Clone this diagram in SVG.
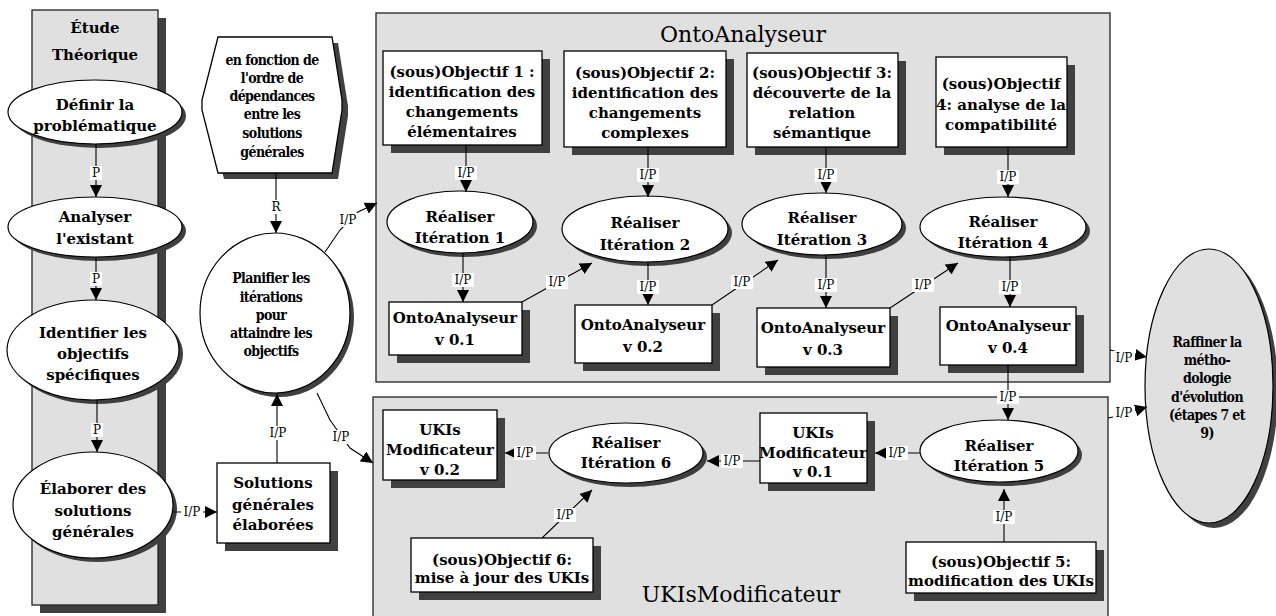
<svg xmlns="http://www.w3.org/2000/svg" width="1276" height="616" viewBox="0 0 1276 616">
<defs>
<marker id="arr" viewBox="0 0 10 10" refX="10" refY="5" markerWidth="12" markerHeight="12" markerUnits="userSpaceOnUse" orient="auto"><path d="M0,0 L10,5 L0,10 z" fill="#000"/></marker>
</defs>
<style>
.sh{fill:#404040}
.bx{fill:#fff;stroke:#000;stroke-width:1.3}
.el{fill:#fff;stroke:#000;stroke-width:1.2}
.gr{fill:#e0e0e0;stroke:#222;stroke-width:1.3}
text{font-family:'DejaVu Serif','Liberation Serif',serif}
.t{font-weight:bold;font-size:15px;text-anchor:middle;fill:#000}
.s{font-family:'DejaVu Serif','Liberation Serif',serif;font-stretch:condensed;font-weight:bold;font-size:14px;text-anchor:middle;fill:#000;letter-spacing:-0.6px}
.ti{font-size:22px;text-anchor:middle;fill:#000}
.ln{fill:none;stroke:#000;stroke-width:1.1;marker-end:url(#arr)}
.lb{font-size:12px;text-anchor:middle;fill:#000}
.lbg{fill:#fff}
</style>
<rect width="1276" height="616" fill="#fff"/>

<g id="etude">
<rect class="sh" x="40" y="18" width="126" height="595"/>
<rect class="gr" x="32" y="10" width="126" height="595"/>
<text class="t" x="95" y="33" font-size="17">Étude</text>
<text class="t" x="95" y="60" font-size="17">Théorique</text>
</g>

<g id="onto-container">
<rect class="gr" x="376" y="13" width="734" height="369"/>
<text class="ti" x="743" y="42">OntoAnalyseur</text>
</g>
<g id="ukis-container">
<rect class="gr" x="373" y="397" width="735" height="230"/>
<text class="ti" x="741" y="602">UKIsModificateur</text>
</g>

<g id="definir">
<ellipse class="sh" cx="99" cy="116" rx="87" ry="32"/>
<ellipse class="el" cx="95" cy="112" rx="87" ry="32"/>
<text class="t" x="95" y="110">Définir la</text>
<text class="t" x="95" y="131">problématique</text>
</g>
<g id="analyser">
<ellipse class="sh" cx="99" cy="231" rx="87" ry="30"/>
<ellipse class="el" cx="95" cy="227" rx="87" ry="30"/>
<text class="t" x="95" y="222">Analyser</text>
<text class="t" x="95" y="244">l'existant</text>
</g>
<g id="identifier">
<ellipse class="sh" cx="97" cy="354" rx="86" ry="50"/>
<ellipse class="el" cx="93" cy="350" rx="86" ry="50"/>
<text class="t" x="93" y="338">Identifier les</text>
<text class="t" x="93" y="359">objectifs</text>
<text class="t" x="93" y="380">spécifiques</text>
</g>
<g id="elaborer">
<ellipse class="sh" cx="97" cy="509" rx="80" ry="53"/>
<ellipse class="el" cx="93" cy="505" rx="80" ry="53"/>
<text class="t" x="93" y="494">Élaborer des</text>
<text class="t" x="93" y="516">solutions</text>
<text class="t" x="93" y="537">générales</text>
</g>

<g id="solutions">
<rect class="sh" x="225" y="471" width="113" height="80"/>
<rect class="bx" x="217" y="463" width="113" height="80"/>
<text class="t" x="273" y="488">Solutions</text>
<text class="t" x="273" y="510">générales</text>
<text class="t" x="273" y="530">élaborées</text>
</g>

<g id="hexagone">
<polygon class="sh" points="224,43 338,43 348,106 348,116 338,179 224,179 208,116 208,106"/>
<polygon class="bx" points="218,37 332,37 342,100 342,110 332,173 218,173 202,110 202,100"/>
<text class="s" x="272" y="65">en fonction  de</text>
<text class="s" x="272" y="83">l'ordre de</text>
<text class="s" x="272" y="101">dépendances</text>
<text class="s" x="272" y="119">entre les</text>
<text class="s" x="272" y="138">solutions</text>
<text class="s" x="272" y="157">générales</text>
</g>

<g id="planifier">
<ellipse class="sh" cx="279" cy="317" rx="75" ry="80"/>
<ellipse class="el" cx="275" cy="313" rx="75" ry="80"/>
<text class="s" x="271" y="283">Planifier les</text>
<text class="s" x="271" y="302">itérations</text>
<text class="s" x="271" y="320">pour</text>
<text class="s" x="271" y="338">attaindre les</text>
<text class="s" x="271" y="356">objectifs</text>
</g>

<g id="obj1">
<rect class="sh" x="391" y="59" width="159" height="94"/>
<rect class="bx" x="383" y="51" width="159" height="94"/>
<text class="t" x="462" y="77">(sous)Objectif 1 :</text>
<text class="t" x="462" y="97">identification des</text>
<text class="t" x="462" y="117">changements</text>
<text class="t" x="462" y="137">élémentaires</text>
</g>
<g id="obj2">
<rect class="sh" x="572" y="59" width="162" height="96"/>
<rect class="bx" x="564" y="51" width="162" height="96"/>
<text class="t" x="645" y="78">(sous)Objectif  2:</text>
<text class="t" x="645" y="98">identification des</text>
<text class="t" x="645" y="118">changements</text>
<text class="t" x="645" y="138">complexes</text>
</g>
<g id="obj3">
<rect class="sh" x="755" y="61" width="151" height="94"/>
<rect class="bx" x="747" y="53" width="151" height="94"/>
<text class="t" x="822" y="78">(sous)Objectif 3:</text>
<text class="t" x="822" y="98">découverte de la</text>
<text class="t" x="822" y="118">relation</text>
<text class="t" x="822" y="138">sémantique</text>
</g>
<g id="obj4">
<rect class="sh" x="944" y="65" width="131" height="90"/>
<rect class="bx" x="936" y="57" width="131" height="90"/>
<text class="t" x="1001" y="89">(sous)Objectif</text>
<text class="t" x="1001" y="110">4: analyse de la</text>
<text class="t" x="1001" y="130">compatibilité</text>
</g>

<g id="it1">
<ellipse class="sh" cx="464" cy="226" rx="73" ry="31"/>
<ellipse class="el" cx="460" cy="222" rx="73" ry="31"/>
<text class="t" x="460" y="222">Réaliser</text>
<text class="t" x="460" y="243">Itération 1</text>
</g>
<g id="it2">
<ellipse class="sh" cx="649" cy="233" rx="83" ry="33"/>
<ellipse class="el" cx="645" cy="229" rx="83" ry="33"/>
<text class="t" x="645" y="228">Réaliser</text>
<text class="t" x="645" y="250">Itération 2</text>
</g>
<g id="it3">
<ellipse class="sh" cx="826" cy="228" rx="80" ry="31"/>
<ellipse class="el" cx="822" cy="224" rx="80" ry="31"/>
<text class="t" x="822" y="223">Réaliser</text>
<text class="t" x="822" y="245">Itération 3</text>
</g>
<g id="it4">
<ellipse class="sh" cx="1007" cy="231" rx="83" ry="30"/>
<ellipse class="el" cx="1003" cy="227" rx="83" ry="30"/>
<text class="t" x="1003" y="227">Réaliser</text>
<text class="t" x="1003" y="248">Itération 4</text>
</g>

<g id="v01">
<rect class="sh" x="397" y="310" width="133" height="53"/>
<rect class="bx" x="389" y="302" width="133" height="53"/>
<text class="t" x="455" y="323">OntoAnalyseur</text>
<text class="t" x="455" y="345">v 0.1</text>
</g>
<g id="v02">
<rect class="sh" x="583" y="313" width="137" height="58"/>
<rect class="bx" x="575" y="305" width="137" height="58"/>
<text class="t" x="643" y="330">OntoAnalyseur</text>
<text class="t" x="643" y="352">v 0.2</text>
</g>
<g id="v03">
<rect class="sh" x="765" y="316" width="133" height="59"/>
<rect class="bx" x="757" y="308" width="133" height="59"/>
<text class="t" x="823" y="333">OntoAnalyseur</text>
<text class="t" x="823" y="355">v 0.3</text>
</g>
<g id="v04">
<rect class="sh" x="948" y="315" width="136" height="58"/>
<rect class="bx" x="940" y="307" width="136" height="58"/>
<text class="t" x="1008" y="331">OntoAnalyseur</text>
<text class="t" x="1008" y="353">v 0.4</text>
</g>

<g id="raffiner">
<ellipse class="sh" cx="1214" cy="391" rx="64" ry="137"/>
<ellipse cx="1209" cy="386" rx="64" ry="137" fill="#e0e0e0" stroke="#000" stroke-width="1.2"/>
<text class="s" x="1207" y="347">Raffiner la</text>
<text class="s" x="1207" y="365">métho-</text>
<text class="s" x="1207" y="383">dologie</text>
<text class="s" x="1207" y="402">d'évolution</text>
<text class="s" x="1207" y="420">(étapes 7 et</text>
<text class="s" x="1207" y="438">9)</text>
</g>

<g id="it5">
<ellipse class="sh" cx="1003" cy="455" rx="79" ry="31"/>
<ellipse class="el" cx="999" cy="451" rx="79" ry="31"/>
<text class="t" x="999" y="451">Réaliser</text>
<text class="t" x="999" y="471">Itération 5</text>
</g>
<g id="obj5">
<rect class="sh" x="914" y="550" width="190" height="51"/>
<rect class="bx" x="906" y="542" width="190" height="51"/>
<text class="t" x="1001" y="567">(sous)Objectif 5:</text>
<text class="t" x="1001" y="586">modification des UKIs</text>
</g>
<g id="ukis-v01">
<rect class="sh" x="768" y="421" width="107" height="70"/>
<rect class="bx" x="760" y="413" width="107" height="70"/>
<text class="t" x="813" y="438">UKIs</text>
<text class="t" x="813" y="458">Modificateur</text>
<text class="t" x="813" y="477">v 0.1</text>
</g>
<g id="it6">
<ellipse class="sh" cx="630" cy="457" rx="77" ry="30"/>
<ellipse class="el" cx="626" cy="453" rx="77" ry="30"/>
<text class="t" x="626" y="448">Réaliser</text>
<text class="t" x="626" y="468">Itération 6</text>
</g>
<g id="ukis-v02">
<rect class="sh" x="391" y="418" width="114" height="70"/>
<rect class="bx" x="383" y="410" width="114" height="70"/>
<text class="t" x="440" y="435">UKIs</text>
<text class="t" x="440" y="455">Modificateur</text>
<text class="t" x="440" y="475">v 0.2</text>
</g>
<g id="obj6">
<rect class="sh" x="419" y="546" width="182" height="54"/>
<rect class="bx" x="411" y="538" width="182" height="54"/>
<text class="t" x="502" y="565">(sous)Objectif 6:</text>
<text class="t" x="502" y="583">mise à jour des UKIs</text>
</g>

<g id="connectors">
<line class="ln" x1="96" y1="144" x2="96" y2="197"/>
<line class="ln" x1="96" y1="257" x2="96" y2="300"/>
<line class="ln" x1="97" y1="400" x2="97" y2="452"/>
<line class="ln" x1="173" y1="512" x2="217" y2="512"/>
<line class="ln" x1="277" y1="463" x2="277" y2="394"/>
<line class="ln" x1="276" y1="173" x2="276" y2="233"/>
<polyline class="ln" points="325,252 340,230 358,212 377,203"/>
<polyline class="ln" points="317,393 330,420 350,448 373,463"/>
<line class="ln" x1="466" y1="145" x2="466" y2="192"/>
<line class="ln" x1="648" y1="147" x2="648" y2="197"/>
<line class="ln" x1="826" y1="147" x2="826" y2="193"/>
<line class="ln" x1="1008" y1="147" x2="1008" y2="197"/>
<line class="ln" x1="463" y1="253" x2="463" y2="302"/>
<line class="ln" x1="648" y1="262" x2="648" y2="305"/>
<line class="ln" x1="826" y1="255" x2="826" y2="308"/>
<line class="ln" x1="1010" y1="257" x2="1010" y2="307"/>
<line class="ln" x1="522" y1="302" x2="592" y2="263"/>
<line class="ln" x1="712" y1="305" x2="778" y2="260"/>
<line class="ln" x1="890" y1="308" x2="958" y2="263"/>
<line class="ln" x1="1008" y1="365" x2="1008" y2="420"/>
<polyline class="ln" points="1110,350 1118,352 1147,357"/>
<polyline class="ln" points="1108,418 1118,416 1147,407"/>
<line class="ln" x1="1004" y1="542" x2="1004" y2="489"/>
<line class="ln" x1="920" y1="453" x2="875" y2="453"/>
<line class="ln" x1="760" y1="461" x2="707" y2="461"/>
<line class="ln" x1="548" y1="453" x2="505" y2="453"/>
<line class="ln" x1="542" y1="538" x2="592" y2="490"/>

<g id="labels">
<rect class="lbg" x="90" y="166" width="12" height="14"/><text class="lb" x="96" y="177">P</text>
<rect class="lbg" x="90" y="272" width="12" height="14"/><text class="lb" x="96" y="283">P</text>
<rect class="lbg" x="91" y="423" width="12" height="14"/><text class="lb" x="97" y="434">P</text>
<rect class="lbg" x="181" y="505" width="22" height="14"/><text class="lb" x="192" y="516">I/P</text>
<rect class="lbg" x="267" y="426" width="22" height="14"/><text class="lb" x="278" y="437">I/P</text>
<rect class="lbg" x="270" y="200" width="12" height="14"/><text class="lb" x="276" y="211">R</text>
<rect class="lbg" x="337" y="213" width="22" height="14"/><text class="lb" x="348" y="224">I/P</text>
<rect class="lbg" x="330" y="430" width="22" height="14"/><text class="lb" x="341" y="441">I/P</text>
<rect class="lbg" x="455" y="166" width="22" height="14"/><text class="lb" x="466" y="177">I/P</text>
<rect class="lbg" x="637" y="168" width="22" height="14"/><text class="lb" x="648" y="179">I/P</text>
<rect class="lbg" x="815" y="168" width="22" height="14"/><text class="lb" x="826" y="179">I/P</text>
<rect class="lbg" x="997" y="170" width="22" height="14"/><text class="lb" x="1008" y="181">I/P</text>
<rect class="lbg" x="452" y="273" width="22" height="14"/><text class="lb" x="463" y="284">I/P</text>
<rect class="lbg" x="637" y="280" width="22" height="14"/><text class="lb" x="648" y="291">I/P</text>
<rect class="lbg" x="815" y="278" width="22" height="14"/><text class="lb" x="826" y="289">I/P</text>
<rect class="lbg" x="999" y="280" width="22" height="14"/><text class="lb" x="1010" y="291">I/P</text>
<rect class="lbg" x="546" y="275" width="22" height="14"/><text class="lb" x="557" y="286">I/P</text>
<rect class="lbg" x="731" y="275" width="22" height="14"/><text class="lb" x="742" y="286">I/P</text>
<rect class="lbg" x="912" y="278" width="22" height="14"/><text class="lb" x="923" y="289">I/P</text>
<rect class="lbg" x="997" y="390" width="22" height="14"/><text class="lb" x="1008" y="401">I/P</text>
<rect class="lbg" x="1113" y="351" width="22" height="14"/><text class="lb" x="1124" y="362">I/P</text>
<rect class="lbg" x="1113" y="406" width="22" height="14"/><text class="lb" x="1124" y="417">I/P</text>
<rect class="lbg" x="993" y="510" width="22" height="14"/><text class="lb" x="1004" y="521">I/P</text>
<rect class="lbg" x="886" y="446" width="22" height="14"/><text class="lb" x="897" y="457">I/P</text>
<rect class="lbg" x="721" y="454" width="22" height="14"/><text class="lb" x="732" y="465">I/P</text>
<rect class="lbg" x="514" y="446" width="22" height="14"/><text class="lb" x="525" y="457">I/P</text>
<rect class="lbg" x="554" y="508" width="22" height="14"/><text class="lb" x="565" y="519">I/P</text>
</g>
</g>
</svg>
